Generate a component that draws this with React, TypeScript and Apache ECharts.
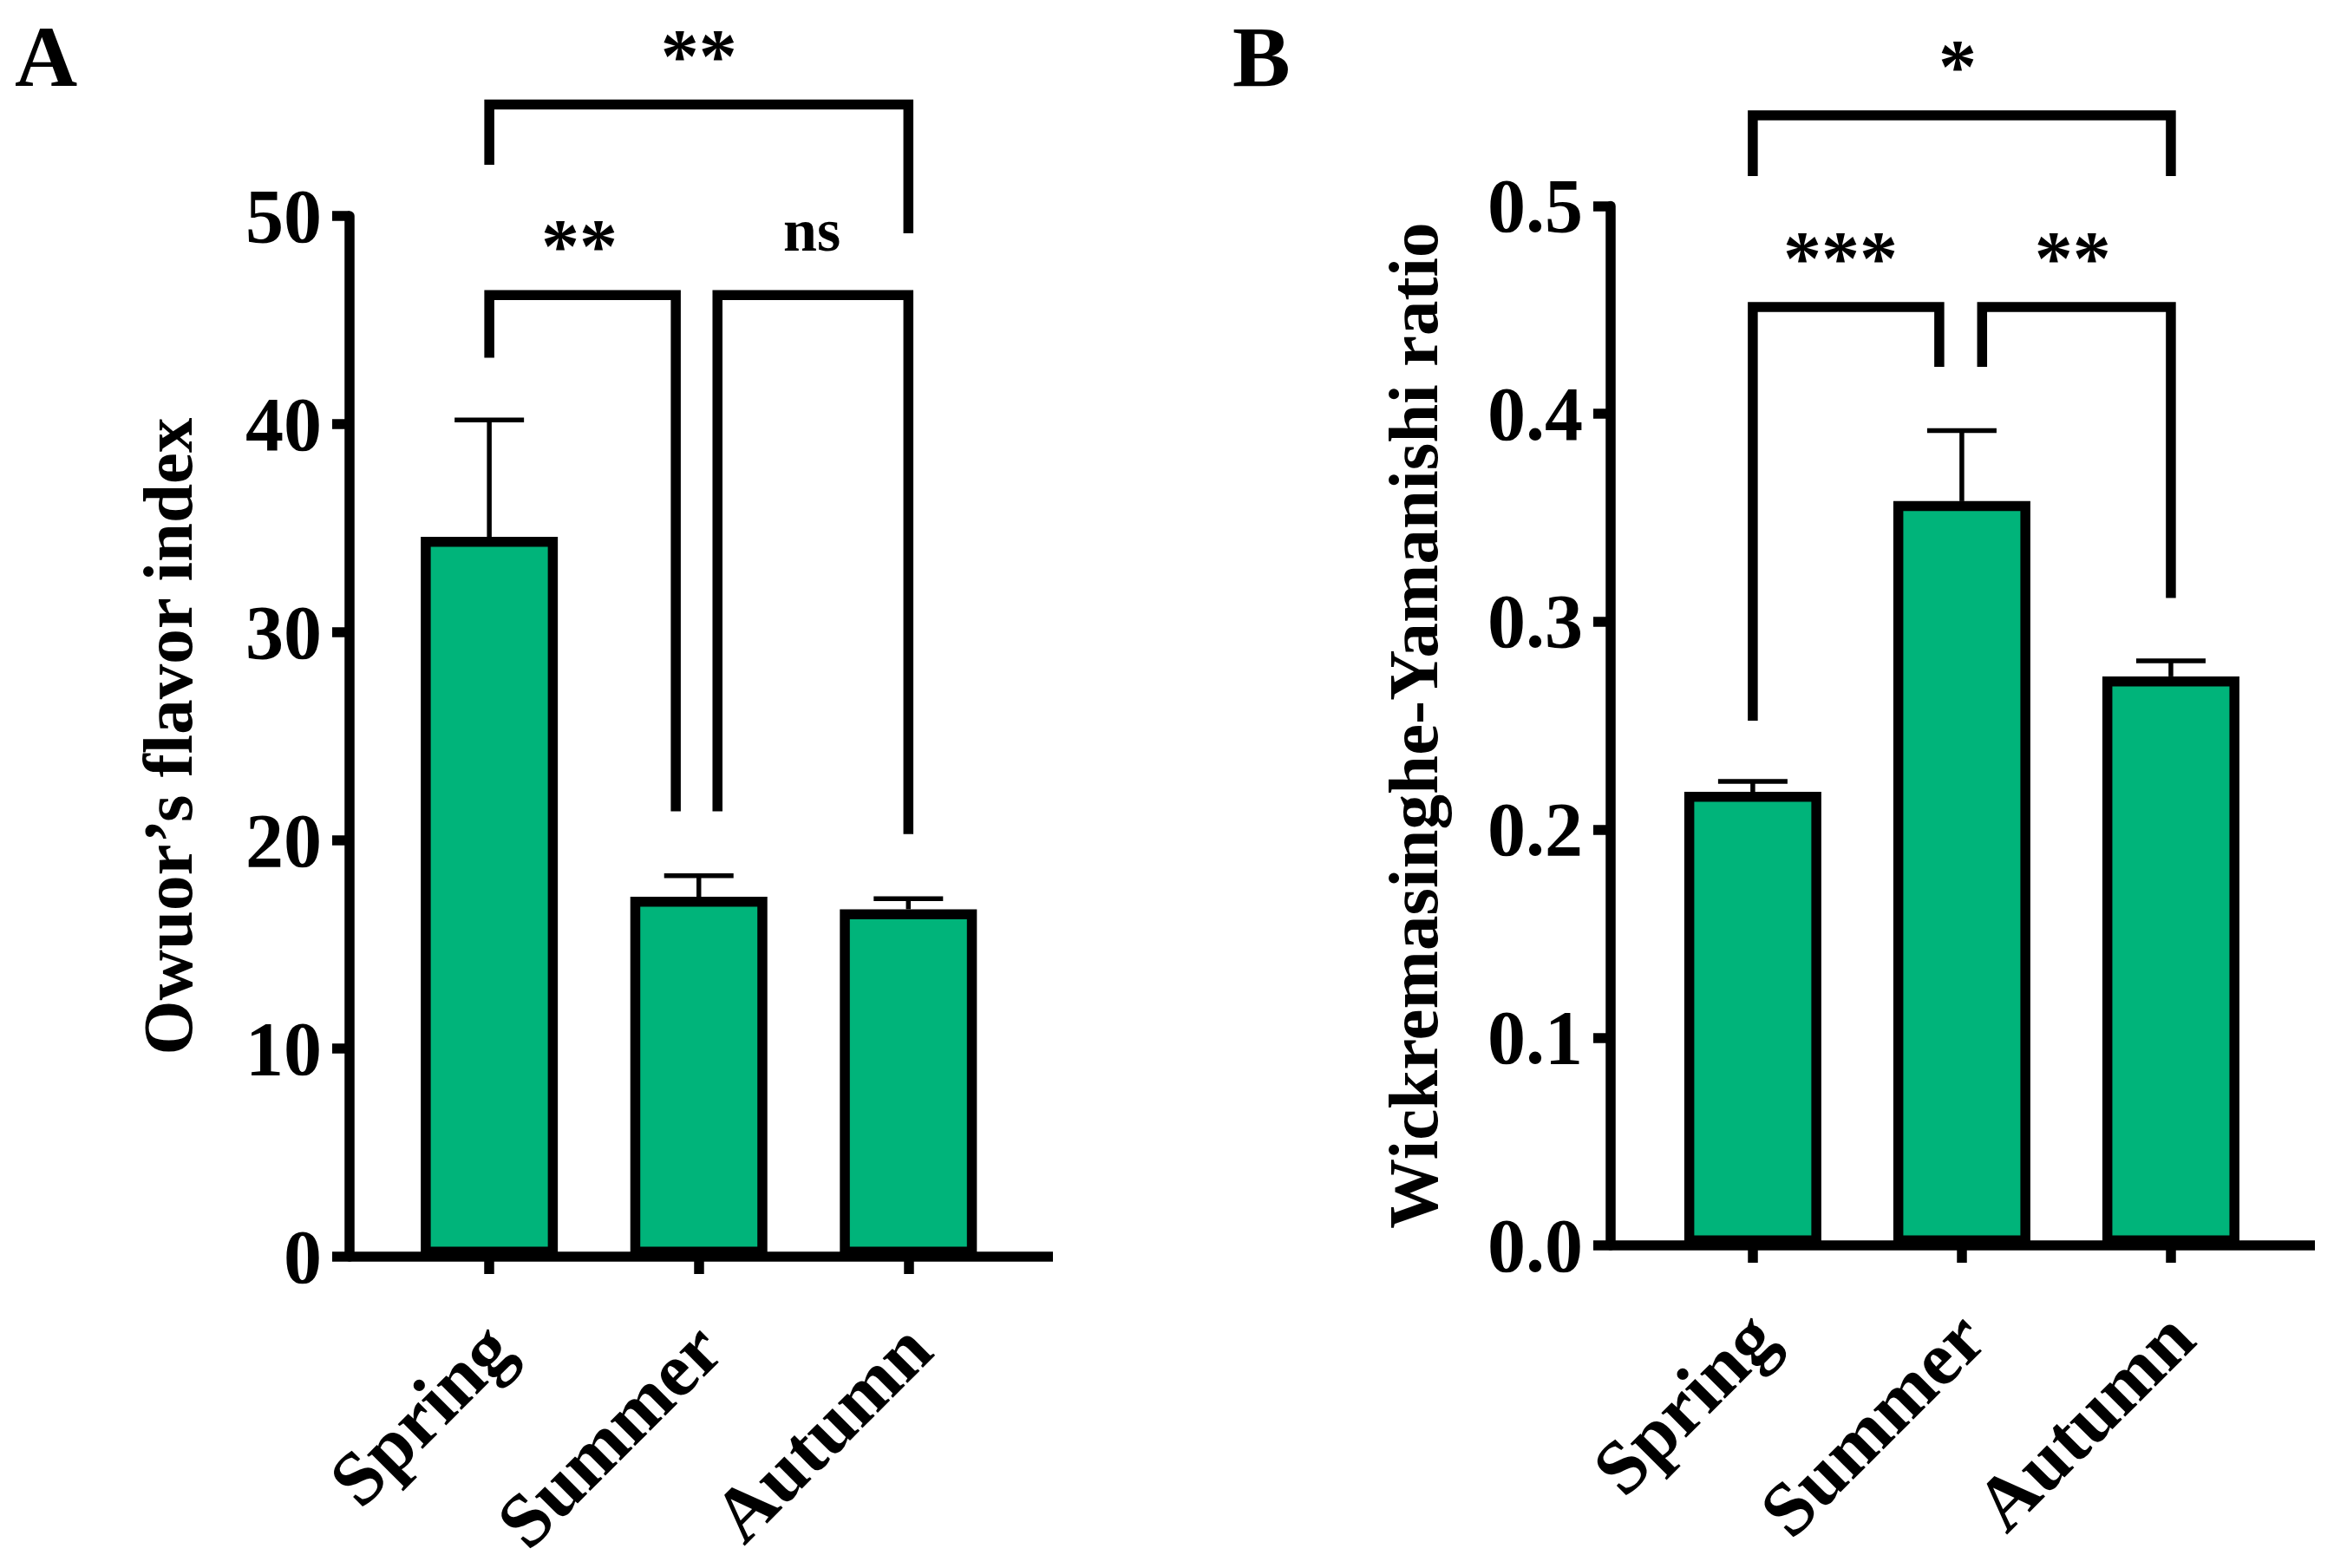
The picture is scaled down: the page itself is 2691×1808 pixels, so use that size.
import React, { useEffect, useRef } from "react";
import * as echarts from "echarts";

const categories = ["Spring", "Summer", "Autumn"];

// Panel A: Owuor's flavor index (bar = mean, upper whisker = mean + error)
const owuorMeans = [34.58, 17.29, 16.69];
const owuorUpper = [40.2, 18.3, 17.2];

// Panel B: Wickremasinghe-Yamanishi ratio
const wyMeans = [0.2182, 0.358, 0.2737];
const wyUpper = [0.2232, 0.392, 0.2812];

// Significance brackets: [xStart, xEnd, yBar, yLeftEnd, yRightEnd, labelX, labelY]
const bracketsA = [
  [0, 2, 55.35, 52.46, 49.17, 1.0, 58.2],
  [0, 0.89, 46.2, 43.19, 21.4, 0.43, 49.08],
  [1.089, 2, 46.2, 21.4, 20.3, 1.54, 49.0],
];
const bracketLabelsA = ["**", "**", "ns"];

const bracketsB = [
  [0, 2, 0.5436, 0.5144, 0.5144, 0.98, 0.572],
  [0, 0.892, 0.4514, 0.2524, 0.4226, 0.42, 0.48],
  [1.097, 2, 0.4514, 0.4226, 0.3114, 1.53, 0.48],
];
const bracketLabelsB = ["*", "***", "**"];

const FONT = "'Liberation Serif', 'Times New Roman', serif";
const GREEN = "#00B47A";
const LW = 11.5;

function makeBracketSeries(idx: number, brackets: number[][], labels: string[]) {
  return {
    type: "custom",
    xAxisIndex: idx,
    yAxisIndex: idx,
    clip: false,
    z: 10,
    data: brackets,
    renderItem: (params: any, api: any) => {
      const x0 = api.value(0), x1 = api.value(1), yb = api.value(2);
      const yl = api.value(3), yr = api.value(4), lx = api.value(5), ly = api.value(6);
      const a = api.coord([x0, yl]);
      const b = api.coord([x0, yb]);
      const c = api.coord([x1, yb]);
      const d = api.coord([x1, yr]);
      const t = api.coord([lx, ly]);
      const label = labels[params.dataIndex];
      const isStar = label.indexOf("*") >= 0;
      const fs = isStar ? 88 : 70;
      const dy = isStar ? 12 : -8;
      return {
        type: "group",
        children: [
          {
            type: "polyline",
            shape: { points: [a, b, c, d] },
            style: { stroke: "#000", lineWidth: LW, fill: "none", lineJoin: "miter", lineCap: "butt" },
          },
          {
            type: "text",
            x: t[0],
            y: t[1] + dy,
            style: {
              text: label,
              fontSize: fs,
              fontWeight: "bold",
              fontFamily: FONT,
              fill: "#000",
              align: "center",
              verticalAlign: "middle",
            },
          },
        ],
      };
    },
  };
}

function makeErrorSeries(idx: number, means: number[], upper: number[]) {
  return {
    type: "custom",
    xAxisIndex: idx,
    yAxisIndex: idx,
    clip: false,
    z: 3,
    data: means.map((m, i) => [i, m, upper[i]]),
    renderItem: (params: any, api: any) => {
      const i = api.value(0);
      const p0 = api.coord([i, api.value(1)]);
      const p1 = api.coord([i, api.value(2)]);
      return {
        type: "group",
        children: [
          {
            type: "line",
            shape: { x1: p0[0], y1: p0[1], x2: p1[0], y2: p1[1] },
            style: { stroke: "#000", lineWidth: 5.5 },
          },
          {
            type: "line",
            shape: { x1: p1[0] - 40, y1: p1[1], x2: p1[0] + 40, y2: p1[1] },
            style: { stroke: "#000", lineWidth: 5.5 },
          },
        ],
      };
    },
  };
}

function makeLabelSeries(idx: number) {
  return {
    type: "custom",
    xAxisIndex: idx,
    yAxisIndex: idx,
    clip: false,
    z: 10,
    data: categories.map((_, i) => [i, 0]),
    renderItem: (params: any, api: any) => {
      const p = api.coord([api.value(0), api.value(1)]);
      return {
        type: "text",
        x: p[0] + 11,
        y: p[1] + 92,
        rotation: Math.PI / 4,
        style: {
          text: categories[params.dataIndex],
          fontSize: 88,
          fontWeight: "bold",
          fontFamily: FONT,
          fill: "#000",
          align: "right",
          verticalAlign: "middle",
        },
      };
    },
  };
}

function makeXAxis(idx: number, min: number, max: number) {
  return {
    type: "value",
    gridIndex: idx,
    min,
    max,
    splitLine: { show: false },
    axisLine: { show: true, onZero: false, lineStyle: { color: "#000", width: LW, cap: "butt" } },
    axisTick: { show: true, customValues: [0, 1, 2], length: 20, lineStyle: { color: "#000", width: LW } },
    axisLabel: { show: false },
  };
}

function makeYAxis(idx: number, max: number, interval: number, name: string, gap: number, fmt: (v: number) => string) {
  return {
    type: "value",
    gridIndex: idx,
    min: 0,
    max,
    interval,
    name,
    nameLocation: "middle",
    nameRotate: 90,
    nameGap: gap,
    nameTextStyle: { fontSize: 81, fontWeight: "bold", fontFamily: FONT, color: "#000" },
    splitLine: { show: false },
    axisLine: { show: true, onZero: false, lineStyle: { color: "#000", width: LW } },
    axisTick: { show: true, length: 20, lineStyle: { color: "#000", width: LW } },
    axisLabel: {
      margin: 32,
      fontSize: 88,
      fontWeight: "bold",
      fontFamily: FONT,
      color: "#000",
      formatter: fmt,
    },
  };
}

export default function App() {
  const ref = useRef<HTMLDivElement>(null);
  useEffect(() => {
    if (!ref.current) return;
    const chart = echarts.init(ref.current, undefined, { renderer: "svg" });
    const option: any = {
      animation: false,
      backgroundColor: "#ffffff",
      grid: [
        { left: 403, top: 249, width: 811, height: 1200 },
        { left: 1857, top: 237.5, width: 812, height: 1198.5 },
      ],
      xAxis: [makeXAxis(0, -0.667, 2.69), makeXAxis(1, -0.68, 2.689)],
      yAxis: [
        makeYAxis(0, 50, 10, "Owuor\u2019s flavor index", 169, (v: number) => String(v)),
        makeYAxis(1, 0.5, 0.1, "Wickremasinghe-Yamanishi ratio", 187, (v: number) => v.toFixed(1)),
      ],
      graphic: [
        {
          type: "text",
          x: 17,
          y: 65,
          style: { text: "A", fontSize: 100, fontWeight: "bold", fontFamily: FONT, fill: "#000", align: "left", verticalAlign: "middle" },
        },
        {
          type: "text",
          x: 1421,
          y: 65,
          style: { text: "B", fontSize: 100, fontWeight: "bold", fontFamily: FONT, fill: "#000", align: "left", verticalAlign: "middle" },
        },
      ],
      series: [
        makeErrorSeries(0, owuorMeans, owuorUpper),
        {
          type: "bar",
          xAxisIndex: 0,
          yAxisIndex: 0,
          barWidth: 158,
          z: 5,
          data: owuorMeans.map((v, i) => [i, v]),
          itemStyle: { color: GREEN, borderColor: "#000", borderWidth: LW },
        },
        makeBracketSeries(0, bracketsA, bracketLabelsA),
        makeLabelSeries(0),
        makeErrorSeries(1, wyMeans, wyUpper),
        {
          type: "bar",
          xAxisIndex: 1,
          yAxisIndex: 1,
          barWidth: 158,
          z: 5,
          data: wyMeans.map((v, i) => [i, v]),
          itemStyle: { color: GREEN, borderColor: "#000", borderWidth: LW },
        },
        makeBracketSeries(1, bracketsB, bracketLabelsB),
        makeLabelSeries(1),
      ],
    };
    chart.setOption(option);
    return () => chart.dispose();
  }, []);
  return <div ref={ref} style={{ position: "fixed", left: 0, top: 0, width: 2691, height: 1808 }} />;
}
